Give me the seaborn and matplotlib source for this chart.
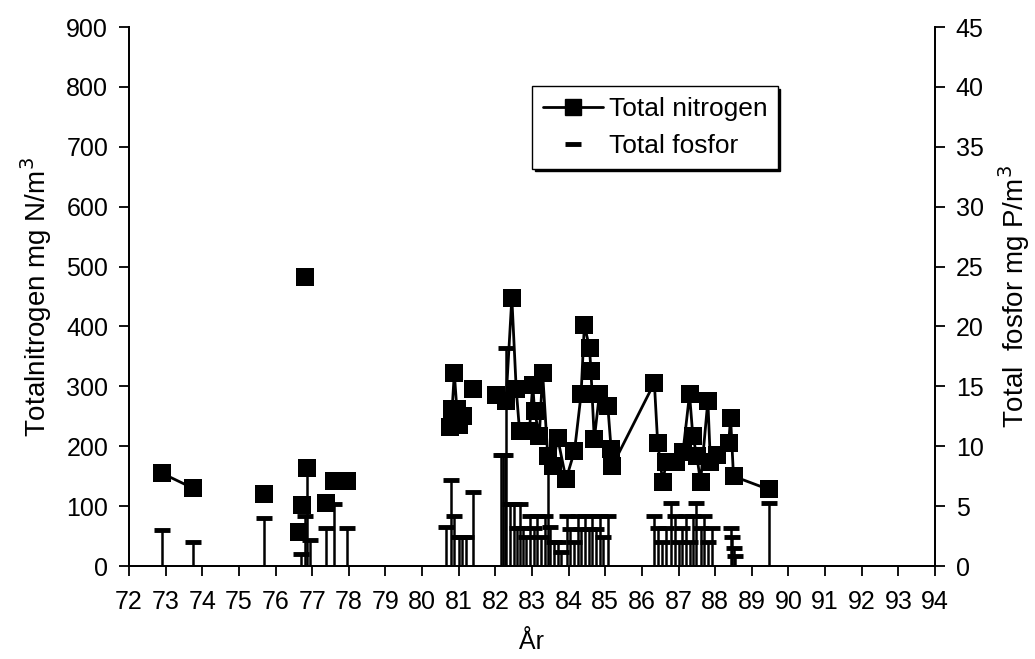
import numpy as np
import pandas as pd
import matplotlib
matplotlib.use("Agg")
import matplotlib.pyplot as plt
import seaborn as sns
from matplotlib.lines import Line2D

# Totalnitrogen (mg N/m3): år, värde och linjesegment (brott i serien)
n_year = [72.9, 73.75, 75.69, 76.8, 76.65, 76.72, 76.85, 77.37, 77.6, 77.95,
          80.75, 80.82, 80.88, 80.95, 81.02, 81.12, 81.38,
          82.02, 82.29, 82.45, 82.57, 82.66, 82.93, 83.02, 83.07, 83.2, 83.29,
          83.43, 83.57, 83.7, 83.93, 84.16, 84.34, 84.43, 84.57, 84.61, 84.7,
          84.84, 85.07, 85.16, 85.19, 86.34, 86.43, 86.57, 86.66, 86.93, 87.12,
          87.3, 87.39, 87.5, 87.6, 87.8, 87.87, 88.05, 88.37, 88.42, 88.5, 89.46]
n_val = [155, 130, 120, 482, 57, 102, 164, 105, 142, 142,
         233, 262, 322, 262, 235, 250, 296,
         286, 276, 448, 295, 226, 226, 303, 259, 217, 323,
         184, 167, 214, 145, 192, 287, 403, 364, 325, 212,
         287, 267, 195, 167, 306, 206, 140, 173, 173, 190,
         287, 217, 184, 140, 276, 173, 185, 206, 248, 150, 128]
n_seg = [0, 0, 1, 2, 3, 4, 5, 6, 7, 7,
         8, 8, 8, 8, 8, 8, 9] + [10] * 41

# Total fosfor (mg P/m3)
p_year = [72.9, 73.75, 75.69, 76.7, 76.8, 76.85, 76.95, 77.37, 77.6, 77.95,
          80.65, 80.8, 80.88, 81.0, 81.1, 81.2, 81.4,
          82.15, 82.2, 82.25, 82.29, 82.4, 82.5, 82.6, 82.66, 82.75, 82.85,
          82.95, 83.05, 83.15, 83.25, 83.35, 83.43, 83.5, 83.6, 83.7, 83.8,
          83.95, 84.05, 84.15, 84.25, 84.35, 84.45, 84.55, 84.65, 84.75, 84.85,
          84.95, 85.07, 86.34, 86.45, 86.55, 86.65, 86.8, 86.9, 87.0, 87.1,
          87.2, 87.3, 87.4, 87.48, 87.6, 87.7, 87.8, 87.9,
          88.42, 88.45, 88.5, 88.55, 89.46]
p_val = [3.0, 2.0, 4.0, 1.0, 4.2, 8.0, 2.2, 3.2, 5.2, 3.2,
         3.3, 7.2, 4.2, 2.4, 2.4, 2.4, 6.2,
         9.3, 9.3, 9.3, 18.2, 5.2, 5.2, 3.2, 5.2, 3.2, 2.4,
         4.2, 3.2, 4.2, 2.4, 4.2, 9.0, 3.3, 2.0, 2.0, 1.2,
         4.2, 3.1, 2.0, 4.2, 3.1, 4.2, 3.1, 4.2, 3.1, 4.2,
         2.4, 4.2, 4.2, 3.2, 2.0, 3.2, 5.3, 4.2, 2.0, 3.2,
         4.2, 2.0, 4.2, 5.3, 3.2, 4.2, 2.0, 3.2,
         3.2, 2.4, 1.5, 0.8, 5.3]

x_ticks = list(range(72, 95))

nitro = pd.DataFrame({"year": n_year, "N": n_val, "seg": n_seg})
fosfor = pd.DataFrame({"year": p_year, "P": p_val})

sns.set_style("ticks")
plt.rcParams["font.family"] = ["Liberation Sans", "DejaVu Sans"]
plt.rcParams["font.size"] = 18
plt.rcParams["text.color"] = "black"
plt.rcParams["axes.labelcolor"] = "black"

fig = plt.figure(figsize=(10.35, 6.59), dpi=100)
ax = fig.add_axes([0.1246, 0.141, 0.7788, 0.818])

sns.lineplot(data=nitro, x="year", y="N", units="seg", estimator=None,
             sort=True, color="black", linewidth=2.0, ax=ax, legend=False)
sns.scatterplot(data=nitro, x="year", y="N", marker="s", s=150,
                color="black", edgecolor="black", linewidth=0, ax=ax,
                legend=False, zorder=3)

ax2 = ax.twinx()
ax2.vlines(fosfor["year"], 0, fosfor["P"], color="black", linewidth=1.8)
sns.scatterplot(data=fosfor, x="year", y="P", marker="_", s=140,
                color="black", linewidth=3.5, ax=ax2, legend=False, zorder=3)

ax.set_xlim(72, 94)
ax.set_ylim(0, 900)
ax2.set_ylim(0, 45)
ax.set_xticks(x_ticks)
ax.set_xticklabels([str(t) for t in x_ticks])
ax.set_yticks(range(0, 901, 100))
ax2.set_yticks(range(0, 46, 5))

for a in (ax, ax2):
    a.spines["top"].set_visible(False)
    for s in a.spines.values():
        s.set_color("black")
        s.set_linewidth(1.3)
    a.tick_params(direction="out", length=7, width=1.3, colors="black",
                  labelsize=18, pad=8)
ax.tick_params(axis="x", pad=10)

ax.set_xlabel("År", fontsize=18, labelpad=12, color="black")
ax.set_ylabel(r"Totalnitrogen mg N/m$^3$", fontsize=20, labelpad=9, color="black")
ax2.set_ylabel(r"Total  fosfor mg P/m$^3$", fontsize=20, labelpad=9, color="black")

handles = [
    Line2D([], [], color="black", linewidth=2.0, marker="s", markersize=12),
    Line2D([], [], color="black", linestyle="none", marker="_",
           markersize=12, markeredgewidth=3.5),
]
leg = ax2.legend(handles, ["Total nitrogen", "Total fosfor"],
                 loc="upper left", bbox_to_anchor=(0.5, 0.89),
                 frameon=True, fancybox=False, shadow={"color": "black", "alpha": 1},
                 edgecolor="black", framealpha=1, fontsize=19,
                 handlelength=2.3, handletextpad=0.2, borderpad=0.4,
                 labelspacing=0.5, borderaxespad=0, labelcolor="black")
leg.get_frame().set_linewidth(1.0)

fig.savefig("out.png", dpi=100)
